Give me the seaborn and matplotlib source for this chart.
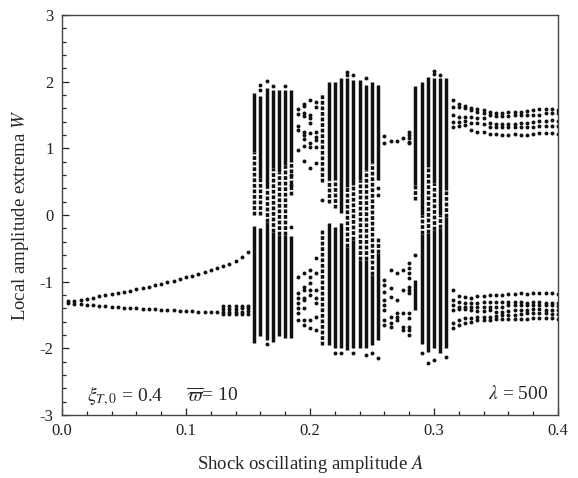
import matplotlib
matplotlib.use("Agg")
import matplotlib.pyplot as plt
from matplotlib.ticker import MultipleLocator
import numpy as np
import pandas as pd
import seaborn as sns

# ---------------- data ----------------
# period-2 branch, A = 0.005 ... 0.150
p2_a = [0.005, 0.010, 0.015, 0.020, 0.025, 0.030, 0.035, 0.040, 0.045, 0.050,
        0.055, 0.060, 0.065, 0.070, 0.075, 0.080, 0.085, 0.090, 0.095, 0.100,
        0.105, 0.110, 0.115, 0.120, 0.125, 0.130, 0.135, 0.140, 0.145, 0.150]
p2_upper = [-1.29, -1.285, -1.28, -1.26, -1.24, -1.22, -1.205, -1.19, -1.17, -1.15,
            -1.135, -1.115, -1.095, -1.075, -1.055, -1.035, -1.01, -0.985, -0.96, -0.935,
            -0.91, -0.885, -0.855, -0.825, -0.80, -0.77, -0.73, -0.69, -0.635, -0.55]
p2_lower_a = [0.005, 0.010, 0.015, 0.020, 0.025, 0.030, 0.035, 0.040, 0.045, 0.050,
              0.055, 0.060, 0.065, 0.070, 0.075, 0.080, 0.085, 0.090, 0.095, 0.100,
              0.105, 0.110, 0.115, 0.120, 0.125]
p2_lower = [-1.32, -1.33, -1.335, -1.345, -1.355, -1.36, -1.37, -1.375, -1.38, -1.39,
            -1.395, -1.40, -1.405, -1.41, -1.415, -1.42, -1.425, -1.43, -1.435, -1.44,
            -1.445, -1.45, -1.455, -1.455, -1.46]
split_a = [0.130, 0.135, 0.140, 0.145, 0.150]
split_w = [[-1.365, -1.41, -1.455, -1.49],
           [-1.365, -1.405, -1.455, -1.49],
           [-1.36, -1.405, -1.45, -1.485],
           [-1.36, -1.40, -1.45, -1.485],
           [-1.36, -1.40, -1.445, -1.48]]

# isolated (quasi-periodic) columns
sparse_a = [0.190, 0.195, 0.200, 0.205, 0.260, 0.265, 0.270, 0.275, 0.280]
sparse_w = [
    [1.59, 1.52, 1.33, 1.28, 0.97, -0.925, -1.175, -1.25, -1.325, -1.40, -1.475, -1.575],
    [1.665, 1.635, 1.525, 1.49, 1.25, 1.20, 1.135, 1.035, 0.815,
     -0.875, -1.075, -1.125, -1.25, -1.275, -1.40, -1.575, -1.65],
    [1.725, 1.50, 1.45, 1.375, 1.225, 1.075, 1.025, 0.70,
     -0.825, -0.925, -1.025, -1.125, -1.20, -1.575, -1.70],
    [1.70, 1.625, 1.25, 1.175, 1.125, 1.025, 0.78,
     -0.65, -0.875, -1.125, -1.25, -1.325, -1.525, -1.725],
    [1.185, 1.075, -0.975, -1.05, -1.15, -1.275, -1.35, -1.425, -1.575, -1.65],
    [1.115, -0.825, -1.10, -1.225, -1.525, -1.625, -1.675],
    [1.11, -0.875, -1.275, -1.475, -1.525, -1.575],
    [1.15, -0.825, -1.125, -1.475, -1.675, -1.725],
    [1.25, 1.20, 1.15, 1.10, 1.075, -0.725, -0.80, -0.875, -0.95, -1.075, -1.125,
     -1.175, -1.475, -1.55, -1.675, -1.725, -1.80],
]

# chaotic bands: extent of each densely filled (d) or spotty (s) run of extrema
seg_a = [0.155, 0.155, 0.155, 0.160, 0.160, 0.160, 0.165, 0.165, 0.165,
         0.170, 0.170, 0.170, 0.175, 0.175, 0.175, 0.180, 0.180, 0.180,
         0.185, 0.185, 0.185,
         0.210, 0.210, 0.215, 0.215, 0.215, 0.220, 0.220, 0.220, 0.225, 0.225,
         0.230, 0.230, 0.230, 0.235, 0.235, 0.235, 0.240, 0.240, 0.240,
         0.245, 0.245, 0.245, 0.250, 0.250, 0.250, 0.255, 0.255, 0.255,
         0.285, 0.285, 0.285, 0.290, 0.290, 0.290, 0.295, 0.295, 0.295,
         0.300, 0.300, 0.300, 0.305, 0.305, 0.305, 0.310, 0.310, 0.310]
seg_lo = [0.95, 0.00, -1.92, 0.55, 0.00, -1.82, 0.40, -0.10, -1.88,
          0.70, -0.25, -1.90, 0.65, -0.30, -1.82, 0.75, -0.30, -1.85,
          0.80, 0.30, -1.85,
          0.50, -1.95, 0.525, 0.175, -1.95, 0.525, 0.10, -2.00, 0.025, -2.00,
          0.425, -0.475, -2.025, 0.45, -0.375, -2.00, 0.525, -0.675, -2.00,
          0.675, -0.675, -2.00, 0.775, -0.90, -1.95, 0.525, -0.575, -1.875,
          0.45, 0.225, -1.425, 0.00, -0.28, -1.93, 0.725, -0.275, -2.05,
          0.475, -0.225, -2.00, 0.00, -0.20, -2.075, 0.375, -0.025, -2.00]
seg_hi = [1.83, 0.95, -0.17, 1.78, 0.55, -0.20, 1.90, 0.40, -0.10,
          1.88, 0.70, -0.25, 1.88, 0.65, -0.30, 1.87, 0.75, -0.30,
          1.87, 0.80, -0.32,
          1.83, -0.23, 2.00, 0.525, -0.125, 2.00, 0.525, -0.175, 2.05, -0.125,
          2.05, 0.425, -0.475, 2.02, 0.45, -0.375, 2.02, 0.525, -0.675,
          1.95, 0.675, -0.675, 2.00, 0.775, -0.90, 1.95, -0.35, -0.575,
          1.93, 0.45, -0.975, 2.00, 0.00, -0.28, 2.075, 0.725, -0.275,
          2.05, 0.475, -0.225, 2.05, 0.00, -0.20, 2.05, 0.375, -0.025]
seg_kind = ["d", "s", "d", "d", "s", "d", "d", "s", "d",
            "d", "s", "d", "d", "s", "d", "d", "s", "d",
            "d", "s", "d",
            "s", "s", "d", "s", "d", "d", "s", "d", "d", "d",
            "d", "s", "d", "d", "s", "d", "d", "s", "d",
            "d", "s", "d", "d", "s", "d", "d", "s", "d",
            "d", "s", "d", "d", "s", "d", "d", "s", "d",
            "d", "s", "d", "d", "s", "d", "d", "s", "d"]
# isolated extreme points around the bands
extra_a = [0.160, 0.160, 0.165, 0.165, 0.170, 0.180, 0.185, 0.185, 0.185,
           0.210, 0.220, 0.225, 0.230, 0.230, 0.235, 0.235, 0.245, 0.245, 0.250,
           0.255, 0.255, 0.255, 0.285, 0.290, 0.295, 0.300, 0.300, 0.300, 0.305, 0.310]
extra_w = [1.95, 1.88, 2.01, -1.93, 1.93, 1.93, -0.175, 0.60, 0.45,
           0.225, -2.075, -2.075, 2.15, 2.10, 2.10, -2.075, 2.05, -2.10, -2.075,
           0.30, 0.40, -2.15, -0.60, -2.075, -2.225, 2.16, 2.12, -2.175, 2.10, -2.125]

# periodic window after the last band, A = 0.315 ... 0.400
right_a = [0.315, 0.320, 0.325, 0.330, 0.335, 0.340, 0.345, 0.350, 0.355,
           0.360, 0.365, 0.370, 0.375, 0.380, 0.385, 0.390, 0.395, 0.400]
up_r1 = [1.725, 1.665, 1.635, 1.61, 1.585, 1.575, 1.55, 1.535, 1.535,
         1.55, 1.55, 1.55, 1.565, 1.575, 1.585, 1.585, 1.585, 1.575]
up_r2 = [1.625, 1.625, 1.60, 1.575, 1.55, 1.525, 1.50, 1.485, 1.485,
         1.485, 1.50, 1.50, 1.50, 1.50, 1.50, 1.525, 1.525, 1.525]
up_r3 = [1.50, 1.475, 1.465, 1.475, 1.45, 1.45, 1.375, 1.365, 1.365,
         1.365, 1.365, 1.375, 1.385, 1.40, 1.415, 1.415, 1.425, 1.415]
up_r4 = [1.40, 1.40, 1.41, 1.375, 1.385, 1.365, 1.325, 1.325, 1.325,
         1.315, 1.315, 1.315, 1.325, 1.325, 1.335, 1.335, 1.335, 1.335]
up_r5 = [1.325, 1.335, 1.35, 1.275, 1.25, 1.24, 1.21, 1.21, 1.20,
         1.20, 1.21, 1.20, 1.20, 1.215, 1.225, 1.225, 1.225, 1.215]
lo_r1 = [-1.125, -1.215, -1.235, -1.25, -1.215, -1.215, -1.20, -1.20, -1.20,
         -1.185, -1.185, -1.175, -1.185, -1.165, -1.165, -1.165, -1.175, -1.185]
lo_r2 = [-1.275, -1.30, -1.325, -1.325, -1.315, -1.30, -1.30, -1.30, -1.30,
         -1.30, -1.30, -1.30, -1.315, -1.30, -1.30, -1.315, -1.315, -1.315]
lo_r3 = [-1.35, -1.375, -1.385, -1.385, -1.385, -1.385, -1.385, -1.375, -1.385,
         -1.35, -1.35, -1.35, -1.35, -1.35, -1.35, -1.35, -1.35, -1.365]
lo_r4 = [-1.425, -1.415, -1.415, -1.425, -1.435, -1.435, -1.425, -1.45, -1.45,
         -1.435, -1.425, -1.425, -1.425, -1.415, -1.415, -1.425, -1.425, -1.425]
lo_r5 = [-1.625, -1.575, -1.55, -1.55, -1.525, -1.535, -1.525, -1.515, -1.50,
         -1.50, -1.50, -1.49, -1.475, -1.475, -1.475, -1.475, -1.485, -1.485]
lo_r6 = [-1.70, -1.65, -1.625, -1.60, -1.575, -1.575, -1.575, -1.565, -1.565,
         -1.565, -1.565, -1.565, -1.565, -1.55, -1.55, -1.55, -1.55, -1.565]

x_ticks = [0.0, 0.1, 0.2, 0.3, 0.4]
x_ticklabels = ["0.0", "0.1", "0.2", "0.3", "0.4"]
y_ticks = [-3, -2, -1, 0, 1, 2, 3]
y_ticklabels = ["-3", "-2", "-1", "0", "1", "2", "3"]

# ---------------- assemble point table ----------------
pts_a, pts_w = [], []
pts_a += p2_a; pts_w += p2_upper
pts_a += p2_lower_a; pts_w += p2_lower
for a, ws in zip(split_a, split_w):
    pts_a += [a] * len(ws); pts_w += ws
for a, ws in zip(sparse_a, sparse_w):
    pts_a += [a] * len(ws); pts_w += ws
pts_a += extra_a; pts_w += extra_w
for row in (up_r1, up_r2, up_r3, up_r4, up_r5, lo_r1, lo_r2, lo_r3, lo_r4, lo_r5, lo_r6):
    pts_a += right_a; pts_w += row
points = pd.DataFrame({"A": pts_a, "W": pts_w})
segs = pd.DataFrame({"A": seg_a, "lo": seg_lo, "hi": seg_hi, "kind": seg_kind})

# ---------------- style ----------------
sns.set_style("ticks")
plt.rcParams["font.family"] = ["Liberation Serif", "DejaVu Serif"]
plt.rcParams["mathtext.fontset"] = "stix"
plt.rcParams["axes.unicode_minus"] = False

fig = plt.figure(figsize=(5.78, 4.78), dpi=100)
ax = fig.add_axes([62 / 578, 63 / 478, 496 / 578, 400 / 478])

ink = "#111111"
dense = segs[segs["kind"] == "d"]
spotty = segs[segs["kind"] == "s"]
ax.vlines(dense["A"], dense["lo"], dense["hi"], colors=ink, linewidth=2.5)
ax.vlines(spotty["A"], spotty["lo"], spotty["hi"], colors=ink, linewidth=2.5,
          linestyles=[(0, (1.1, 0.5))])

sns.scatterplot(data=points, x="A", y="W", ax=ax, s=8, color=ink,
                linewidth=0, marker="o", legend=False)

ax.set_xlim(0.0, 0.4)
ax.set_ylim(-3, 3)
ax.set_xticks(x_ticks)
ax.set_xticklabels(x_ticklabels)
ax.set_yticks(y_ticks)
ax.set_yticklabels(y_ticklabels)
ax.xaxis.set_minor_locator(MultipleLocator(0.02))
ax.yaxis.set_minor_locator(MultipleLocator(0.2))
ax.tick_params(which="both", direction="in", top=False, right=False,
               labelsize=12, colors="#222222", width=0.9)
ax.tick_params(which="major", length=5, pad=6)
ax.tick_params(which="minor", length=3)
for sp in ax.spines.values():
    sp.set_visible(True)
    sp.set_linewidth(1.0)
    sp.set_color("#444444")

ax.set_xlabel(r"Shock oscillating amplitude $A$", fontsize=13.5, labelpad=10)
ax.set_ylabel(r"Local amplitude extrema $W$", fontsize=13.5, labelpad=6)

ax.text(0.020, -2.72, r"$\xi_{T,0}$ = 0.4", fontsize=14, va="center", ha="left")
ax.text(0.100, -2.72, r"$\overline{\varpi}$= 10", fontsize=14, va="center", ha="left")
ax.text(0.392, -2.68, r"$\lambda$ = 500", fontsize=14, va="center", ha="right")

fig.savefig("out.png", dpi=100)
